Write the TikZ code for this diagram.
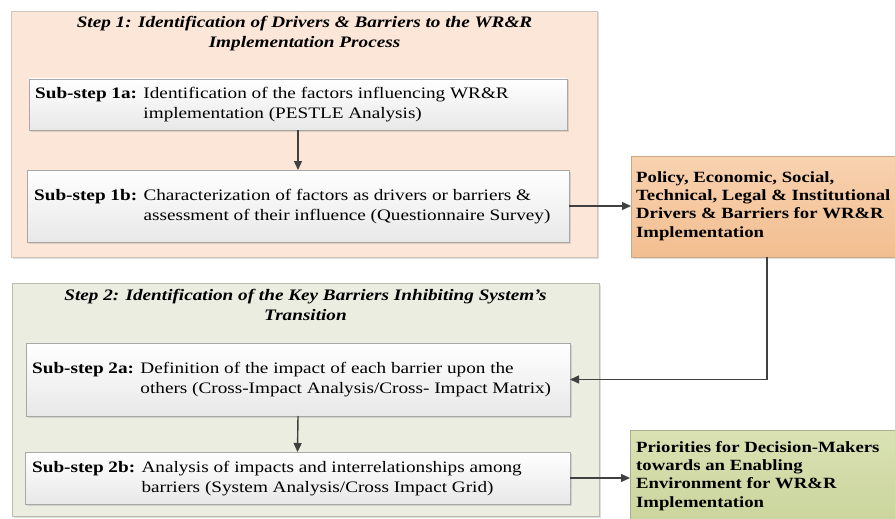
\documentclass[tikz,border=0pt]{standalone}
\usepackage{fontspec}
\setmainfont{Liberation Serif}[FakeStretch=1.2]
\usetikzlibrary{arrows.meta,shadows}

\definecolor{stepOneFill}{HTML}{FBE6D8}
\definecolor{stepOneLine}{HTML}{CFC5BC}
\definecolor{stepTwoFill}{HTML}{EBEDE0}
\definecolor{stepTwoLine}{HTML}{B9BCAE}
\definecolor{subLine}{HTML}{A8A8A8}
\definecolor{subBottom}{HTML}{E8E8E8}
\definecolor{policyTop}{HTML}{F8D2B0}
\definecolor{policyBottom}{HTML}{F2BE90}
\definecolor{policyLine}{HTML}{C9A888}
\definecolor{prioTop}{HTML}{DAE2B4}
\definecolor{prioBottom}{HTML}{CAD49B}
\definecolor{prioLine}{HTML}{A9AE90}
\definecolor{flow}{HTML}{404040}

\begin{document}
\begin{tikzpicture}[x=1pt,y=-1pt,
  panel/.style={rectangle, anchor=north west, inner sep=0pt, outer sep=0pt,
    line width=0.9pt,
    drop shadow={shadow xshift=1.5pt, shadow yshift=-1.5pt, opacity=0.25}},
  stepbox/.style={panel},
  subbox/.style={panel, draw=subLine, top color=white, bottom color=subBottom},
  policybox/.style={panel, draw=policyLine, top color=policyTop, bottom color=policyBottom},
  priobox/.style={panel, draw=prioLine, top color=prioTop, bottom color=prioBottom},
  titletext/.style={align=center, inner sep=0pt,
    font=\fontsize{16}{20}\selectfont\bfseries\itshape},
  subtext/.style={anchor=west, inner sep=0pt, font=\fontsize{16}{20}\selectfont},
  outtext/.style={anchor=west, align=left, inner sep=0pt,
    font=\fontsize{15.6}{18.3}\selectfont\bfseries},
  flowarrow/.style={draw=flow, line width=1.4pt,
    -{Triangle[length=9pt,width=8pt]}}]

\useasboundingbox (0,0) rectangle (895,519);
\clip (0,0) rectangle (895,519);
\fill[white] (0,0) rectangle (895,519);

% Step 1 panel
\node[stepbox, fill=stepOneFill, draw=stepOneLine,
  minimum width=586pt, minimum height=246pt] (stepone) at (11,11) {};
\node[titletext] (steponetitle) at (304.5,34)
  {Step 1: Identification of Drivers \& Barriers to the WR\&R\\Implementation Process};

\node[subbox, minimum width=538pt, minimum height=51pt] (s1a) at (29,79) {};
\node[subtext] (t1a) at ([xshift=6pt]s1a.west)
  {\begin{tabular}{@{}l@{ }l@{}}
   \textbf{Sub-step 1a:} & Identification of the factors influencing WR\&R\\
   & implementation (PESTLE Analysis)
   \end{tabular}};

\node[subbox, minimum width=542pt, minimum height=72pt] (s1b) at (27,170) {};
\node[subtext] (t1b) at ([xshift=7pt]s1b.west)
  {\begin{tabular}{@{}l@{ }l@{}}
   \textbf{Sub-step 1b:} & Characterization of factors as drivers or barriers \&\\
   & assessment of their influence (Questionnaire Survey)
   \end{tabular}};

% Step 2 panel
\node[stepbox, fill=stepTwoFill, draw=stepTwoLine,
  minimum width=587pt, minimum height=233pt] (steptwo) at (12,283) {};
\node[titletext] (steptwotitle) at (305.5,305)
  {Step 2: Identification of the Key Barriers Inhibiting System’s\\Transition};

\node[subbox, minimum width=544pt, minimum height=73pt] (s2a) at (26,343) {};
\node[subtext] (t2a) at ([xshift=6pt]s2a.west)
  {\begin{tabular}{@{}l@{ }l@{}}
   \textbf{Sub-step 2a:} & Definition of the impact of each barrier upon the\\
   & others (Cross-Impact Analysis/Cross- Impact Matrix)
   \end{tabular}};

\node[subbox, minimum width=545pt, minimum height=52pt] (s2b) at (25,452) {};
\node[subtext] (t2b) at ([xshift=7pt]s2b.west)
  {\begin{tabular}{@{}l@{ }l@{}}
   \textbf{Sub-step 2b:} & Analysis of impacts and interrelationships among\\
   & barriers (System Analysis/Cross Impact Grid)
   \end{tabular}};

% Outcome boxes
\node[policybox, minimum width=300pt, minimum height=101pt] (policy) at (631,156) {};
\node[outtext] (tpolicy) at (636,206)
  {Policy, Economic, Social,\\Technical, Legal \& Institutional\\Drivers \& Barriers for WR\&R\\Implementation};

\node[priobox, minimum width=300pt, minimum height=96pt] (prio) at (630,430) {};
\node[outtext] (tprio) at (636,476)
  {Priorities for Decision-Makers\\towards an Enabling\\Environment for WR\&R\\Implementation};

% Connectors
\draw[flowarrow] (s1a.south) -- (s1b.north);
\draw[flowarrow] (s1b.east) -- (s1b.east -| policy.west);
\coordinate (drop) at ([xshift=136pt]policy.south west);
\draw[flowarrow] (drop) |- (s2a.east);
\draw[flowarrow] (s2a.south) -- (s2b.north);
\draw[flowarrow] (s2b.east) -- (s2b.east -| prio.west);

\end{tikzpicture}
\end{document}
